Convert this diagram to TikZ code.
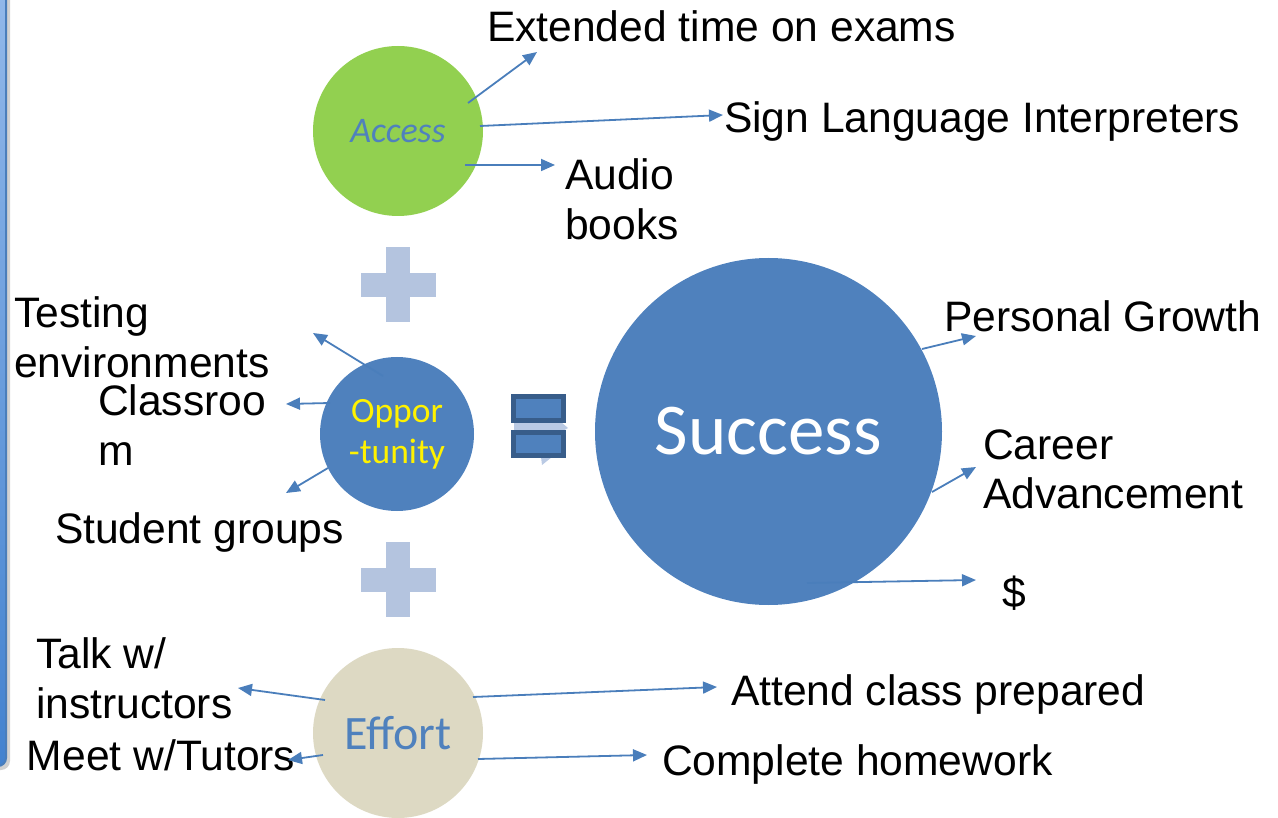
\documentclass[tikz,border=0pt]{standalone}
\usepackage{fontspec}
\setmainfont{Liberation Sans}
\newfontfamily\calfont{Carlito}
\usetikzlibrary{arrows.meta,calc}
\definecolor{arrowblue}{HTML}{4A7EBB}
\definecolor{accgreen}{HTML}{92D050}
\definecolor{midblue}{HTML}{4F81BD}
\definecolor{darkblue}{HTML}{385D8A}
\definecolor{effbeige}{HTML}{DDD9C3}
\definecolor{plusblue}{HTML}{B4C4DF}
\definecolor{paleblue}{HTML}{BACAE4}
\definecolor{barTop}{HTML}{93B9EA}
\definecolor{barBot}{HTML}{4382CF}
\definecolor{barEdge}{HTML}{4A7EBB}
\newcommand\mylblfont{\fontsize{42.6}{50}\selectfont}
\newcommand\mylines[2]{\vtop{\hbox{#1}\hbox{#2}}}
\begin{document}
\begin{tikzpicture}[x=1pt,y=-1pt,
  lbl/.style={anchor=base west, inner sep=0pt, outer sep=0pt, font=\mylblfont, text=black},
  bubble/.style={circle, inner sep=0pt, outer sep=0pt, minimum size=#1},
  arr/.style={draw=arrowblue, line width=1.8pt, -{Triangle[length=14pt,width=12pt]}},
  plusbar/.style={fill=plusblue},
  eqbar/.style={fill=midblue, draw=darkblue, line width=5pt}]
\useasboundingbox (0,0) rectangle (1278,818);
% left decorative bar
\fill[black!18, rounded corners=9pt] (-20,-20) rectangle (10,770);
\shade[top color=barTop, bottom color=barBot, draw=barEdge, line width=2pt, rounded corners=8pt] (-20,-20) rectangle (6,766);

% circles
\node[bubble=170pt, fill=accgreen, text=midblue, font=\calfont\itshape\fontsize{36}{42}\selectfont] (acc) at (398,131) {Access};
\node[bubble=154pt, fill=midblue, text=yellow, align=center, font=\calfont\fontsize{35.5}{41}\selectfont] (opp) at (397,434) {Oppor\\-tunity};
\node[bubble=347pt, fill=midblue, text=white, font=\calfont\fontsize{73}{80}\selectfont] (suc) at (768.5,431.5) {Success};
\node[bubble=170pt, fill=effbeige, text=midblue, font=\calfont\fontsize{48}{52}\selectfont] (eff) at (398,733) {Effort};

% plus signs
\fill[plusblue] (361,273) rectangle (436,297);
\fill[plusblue] (386,247) rectangle (410,322);
\fill[plusblue] (361,568) rectangle (436,592);
\fill[plusblue] (386,542) rectangle (410,617);

% equals sign
\fill[paleblue] (514,422) -- (561,422) -- (568,428) -- (561,432) -- (514,432) -- cycle;
\fill[paleblue] (541,457) -- (552,457) -- (542,465) -- cycle;
\draw[eqbar] (513.5,396.5) rectangle (563.5,420.5);
\draw[eqbar] (513.5,432.5) rectangle (563.5,455.5);

% labels
\node[lbl] (ext) at (487,42) {Extended time on exams};
\node[lbl] (sign) at (724,133) {Sign Language Interpreters};
\node[lbl] (audio) at (565,190) {\mylines{Audio}{books}};
\node[lbl] (test) at (14,328) {\mylines{Testing}{environments}};
\node[lbl] (class) at (98,416) {\mylines{Classroo}{m}};
\node[lbl] (stud) at (55,543) {Student groups};
\node[lbl] (pers) at (944,332) {Personal Growth};
\node[lbl] (car) at (983,459) {\mylines{Career}{Advancement}};
\node[lbl] (dol) at (1002,607) {\$};
\node[lbl] (talk) at (36,668) {\mylines{Talk w/}{instructors}};
\node[lbl] (meet) at (27,770) {Meet w/Tutors};
\node[lbl] (att) at (731,705) {Attend class prepared};
\node[lbl] (comp) at (662,775) {Complete homework};

% connector end points
\coordinate (accA) at (468,103); \coordinate (extT) at (537,52);
\coordinate (accB) at (480,126); \coordinate (signT) at (723,115);
\coordinate (accC) at (465,165); \coordinate (audioT) at (555,165);
\coordinate (oppA) at (383,376); \coordinate (testT) at (313,333);
\coordinate (oppB) at (330,403); \coordinate (classT) at (286,404);
\coordinate (oppC) at (328,468); \coordinate (studT) at (286,493);
\coordinate (sucA) at (922,349); \coordinate (persT) at (976,336);
\coordinate (sucB) at (932,492); \coordinate (carT) at (976,467);
\coordinate (sucC) at (807,583); \coordinate (dolT) at (976,580);
\coordinate (effA) at (325,700); \coordinate (talkT) at (238,688);
\coordinate (effB) at (323,755); \coordinate (meetT) at (288,760);
\coordinate (effC) at (473,697); \coordinate (attT) at (717,687);
\coordinate (effD) at (478,759); \coordinate (compT) at (647,755);

\draw[arr] (accA) -- (extT);
\draw[arr] (accB) -- (signT);
\draw[arr] (accC) -- (audioT);
\draw[arr] (oppA) -- (testT);
\draw[arr] (oppB) -- (classT);
\draw[arr] (oppC) -- (studT);
\draw[arr] (sucA) -- (persT);
\draw[arr] (sucB) -- (carT);
\draw[arr] (sucC) -- (dolT);
\draw[arr] (effA) -- (talkT);
\draw[arr] (effB) -- (meetT);
\draw[arr] (effC) -- (attT);
\draw[arr] (effD) -- (compT);
\end{tikzpicture}
\end{document}
